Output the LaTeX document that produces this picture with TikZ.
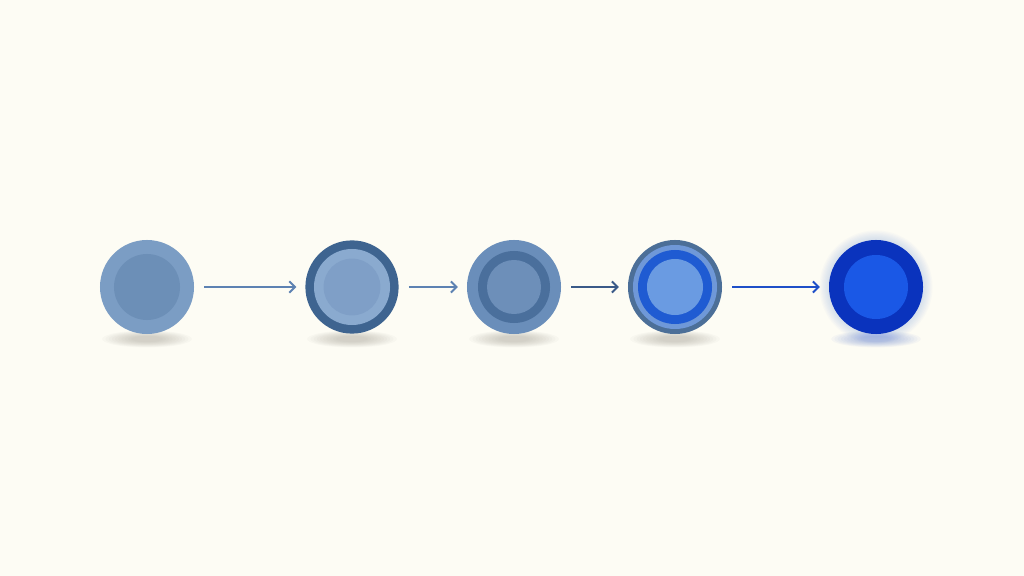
\documentclass[tikz,border=0pt]{standalone}
\usepackage{tikz}
\usetikzlibrary{arrows.meta}
\definecolor{bg}{HTML}{FDFCF4}
\definecolor{paleA}{HTML}{7B9DC4}
\definecolor{paleB}{HTML}{6C8FB7}
\definecolor{slate}{HTML}{3E6490}
\definecolor{paleC}{HTML}{8AAACF}
\definecolor{paleD}{HTML}{7F9FC7}
\definecolor{midA}{HTML}{6A8EBA}
\definecolor{midB}{HTML}{4A6F9C}
\definecolor{midC}{HTML}{6D8FB9}
\definecolor{ringA}{HTML}{4C6F98}
\definecolor{ringB}{HTML}{6F98D8}
\definecolor{ringC}{HTML}{1F5BD2}
\definecolor{ringD}{HTML}{6A9BE2}
\definecolor{deep}{HTML}{0A33BD}
\definecolor{bright}{HTML}{1A58E6}
\definecolor{arrA}{HTML}{5D82B2}
\definecolor{arrB}{HTML}{3A5A88}
\definecolor{arrC}{HTML}{1E4FC8}
\definecolor{shd}{HTML}{8A8578}
\definecolor{bshd}{HTML}{4A6AC8}
\tikzset{
  c/.style={circle,inner sep=0pt,minimum size=#1},
  a/.style={line width=1.4pt,-{Straight Barb[length=4pt,width=8pt]},shorten <=0.25cm,shorten >=0.22cm}
}
\begin{document}
\begin{tikzpicture}[x=0.025cm,y=-0.025cm]
  \fill[bg] (0,0) rectangle (1024,576);
  % shadows
  \foreach \x in {147,352,514,675}{
    \foreach \k in {1,...,10}
      \fill[shd,opacity=0.04] (\x,339) ellipse [x radius=48-3.2*\k, y radius=9-0.6*\k];
  }
  \foreach \k in {1,...,10}
    \fill[bshd,opacity=0.045] (876,339) ellipse [x radius=48-3.2*\k, y radius=9-0.6*\k];
  % glow
  \foreach \k in {1,...,8}
    \fill[bright,opacity=0.02] (876,287) circle [radius=47+1.2*\k];
  \node(1)[c=2.35cm,fill=paleA] at (147,287){};
  \node[c=1.65cm,fill=paleB] at (1){};
  \node(2)[c=2.33cm,fill=slate] at (352,287){};
  \node[c=1.9cm,fill=paleC] at (2){};
  \node[c=1.42cm,fill=paleD] at (2){};
  \node(3)[c=2.35cm,fill=midA] at (514,287){};
  \node[c=1.8cm,fill=midB] at (3){};
  \node[c=1.35cm,fill=midC] at (3){};
  \node(4)[c=2.35cm,fill=ringA] at (675,287){};
  \node[c=2.1cm,fill=ringB] at (4){};
  \node[c=1.85cm,fill=ringC] at (4){};
  \node[c=1.4cm,fill=ringD] at (4){};
  \node(5)[c=2.35cm,fill=deep] at (876,287){};
  \node[c=1.6cm,fill=bright] at (5){};
  \draw[a,arrA] (1) -- (2);
  \draw[a,arrA] (2) -- (3);
  \draw[a,arrB] (3) -- (4);
  \draw[a,arrC] (4) -- (5);
\end{tikzpicture}
\end{document}
